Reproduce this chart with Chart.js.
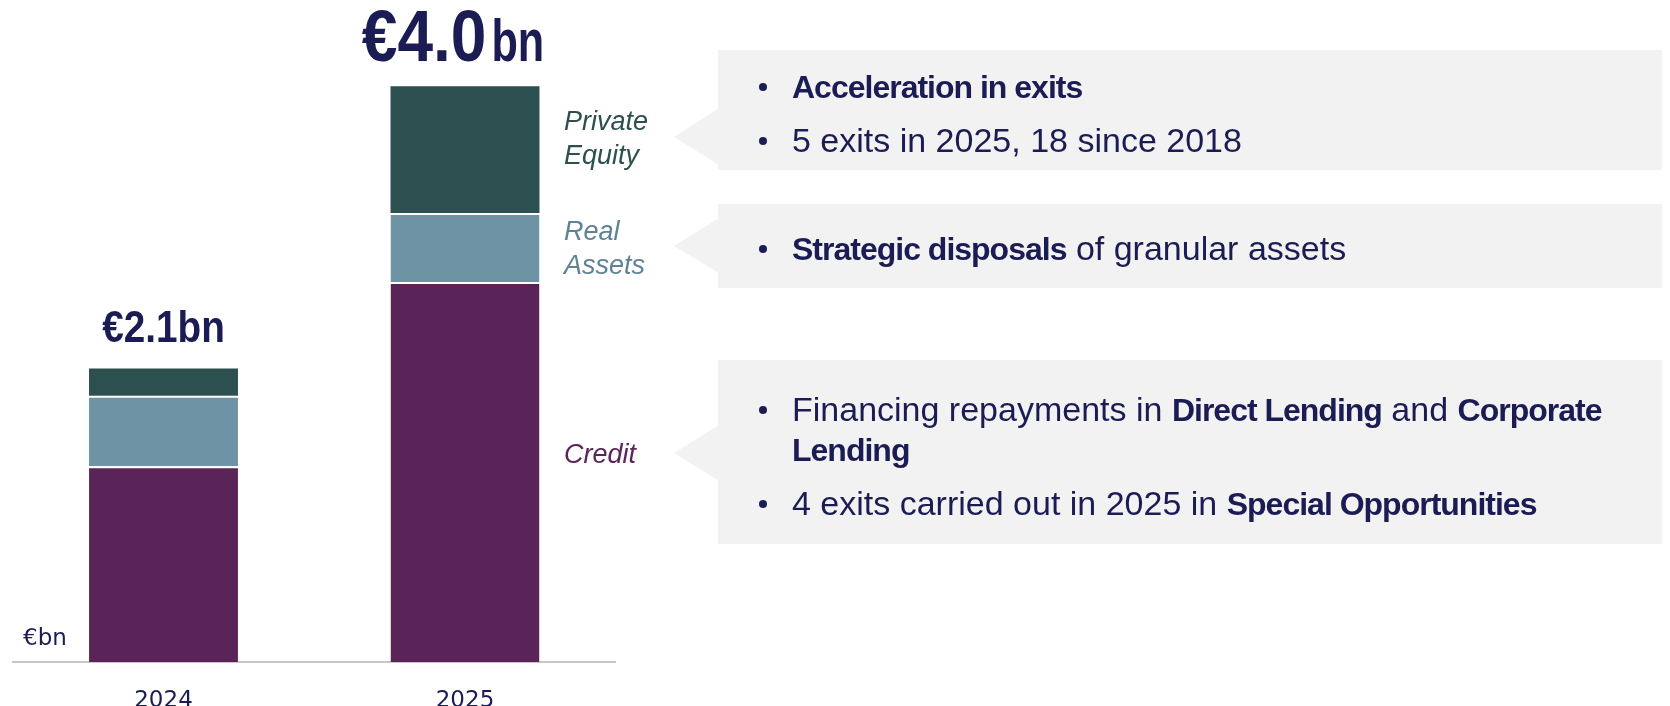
<!DOCTYPE html>
<html>
<head>
<meta charset="utf-8">
<script src="https://cdn.jsdelivr.net/npm/chart.js@4.4.1/dist/chart.umd.min.js"></script>
<style>
  html, body { margin:0; padding:0; background:#fff; }
  body { width:1670px; height:706px; position:relative; overflow:hidden; }
  #wrap { position:absolute; left:0; top:0; width:640px; height:706px; }
  .seg { position:absolute; left:564px; font: italic 27px/34px 'Liberation Sans', Arial, sans-serif; white-space:nowrap; }
  .unit { position:absolute; left:23px; top:624px; font: 23px/26px 'DejaVu Sans', sans-serif; color:#1c1c54; }
  .box { position:absolute; left:718px; width:944px; background:#f2f2f2; box-sizing:border-box; padding-left:74px;
         font: 34px/39px 'Liberation Sans', Arial, sans-serif; color:#1c1c54; }
  .box p { margin:0; position:relative; white-space:nowrap; }
  .box p + p { margin-top:14px; }
  .box p::before { content:''; position:absolute; left:-33px; top:16px; width:8px; height:8px; border-radius:50%; background:#1c1c54; }
  .box b { font-weight:bold; font-size:32px; letter-spacing:-1px; }
  svg.arrows { position:absolute; left:0; top:0; }
</style>
</head>
<body>
<div id="wrap"><canvas id="c" width="640" height="706"></canvas></div>

<div class="unit">€bn</div>
<div class="seg" style="top:104px; color:#2c4f4f;">Private<br>Equity</div>
<div class="seg" style="top:214px; color:#5f8395;">Real<br>Assets</div>
<div class="seg" style="top:437px; color:#5a2459;">Credit</div>

<svg class="arrows" width="1670" height="706">
  <polygon points="719,108 674,137 719,165" fill="#f2f2f2"/>
  <polygon points="719,218 674,246 719,273" fill="#f2f2f2"/>
  <polygon points="719,425 674,453 719,481" fill="#f2f2f2"/>
</svg>

<div class="box" style="top:50px; height:120px; padding-top:16.5px;">
  <p><b>Acceleration in exits</b></p>
  <p>5 exits in 2025, 18 since 2018</p>
</div>
<div class="box" style="top:204px; height:84px; padding-top:24.5px;">
  <p><b>Strategic disposals</b> of granular assets</p>
</div>
<div class="box" style="top:360px; height:184px; padding-top:29.5px;">
  <p>Financing repayments in <b>Direct Lending</b> and <b>Corporate</b><br><b>Lending</b></p>
  <p>4 exits carried out in 2025 in <b>Special Opportunities</b></p>
</div>

<script>
const categories = ['2024', '2025'];
const credit = [1.36, 2.64];
const realAssets = [0.49, 0.48];
const privateEquity = [0.19, 0.88];
const totalLabels = ['€2.1bn', '€4.0bn'];

const NAVY = '#1c1c54';

const totalsPlugin = {
  id: 'totals',
  afterDatasetsDraw(chart, args, opts) {
    const ctx = chart.ctx;
    const xs = chart.scales.x, ys = chart.scales.y;
    categories.forEach((c, i) => {
      const total = credit[i] + realAssets[i] + privateEquity[i];
      const cx = xs.getPixelForValue(i) + opts.xShift[i];
      const yTop = ys.getPixelForValue(total);
      const m = totalLabels[i].match(/^(.*?)(bn)$/);
      const num = m ? m[1] : totalLabels[i];
      const unit = m ? m[2] : '';
      const fam = "'Liberation Sans', Arial, sans-serif";
      const f1 = `bold ${opts.numSize[i]}px ${fam}`;
      const f2 = `bold ${opts.unitSize[i]}px ${fam}`;
      ctx.save();
      ctx.fillStyle = NAVY;
      ctx.textBaseline = 'alphabetic';
      ctx.textAlign = 'left';
      ctx.font = f1; const w1 = ctx.measureText(num).width * opts.numScale[i];
      ctx.font = f2; const w2 = ctx.measureText(unit).width * opts.unitScale[i];
      const gap = opts.gap[i];
      const x0 = cx - (w1 + gap + w2) / 2;
      const yb = yTop - opts.offset[i];
      ctx.save();
      ctx.translate(x0, yb); ctx.scale(opts.numScale[i], 1);
      ctx.font = f1; ctx.fillText(num, 0, 0);
      ctx.restore();
      ctx.save();
      ctx.translate(x0 + w1 + gap, yb); ctx.scale(opts.unitScale[i], 1);
      ctx.font = f2; ctx.fillText(unit, 0, 0);
      ctx.restore();
      ctx.restore();
    });
  }
};

const sep = { top: 2, left: 0, right: 0, bottom: 0 };

new Chart(document.getElementById('c'), {
  type: 'bar',
  data: {
    labels: categories,
    datasets: [
      { label: 'Credit', data: credit, backgroundColor: '#5a2459', borderColor: '#ffffff', borderWidth: sep, borderSkipped: false },
      { label: 'Real Assets', data: realAssets, backgroundColor: '#6e93a5', borderColor: '#ffffff', borderWidth: sep, borderSkipped: false },
      { label: 'Private Equity', data: privateEquity, backgroundColor: '#2c4f4f', borderWidth: 0 }
    ]
  },
  options: {
    responsive: false,
    animation: false,
    layout: { padding: { left: 12.75, right: 24.25, top: 0, bottom: 0 } },
    datasets: { bar: { categoryPercentage: 0.494, barPercentage: 1 } },
    plugins: {
      legend: { display: false },
      tooltip: { enabled: false },
      totals: {
        numSize: [45, 72], unitSize: [45, 60],
        numScale: [0.86, 0.89], unitScale: [0.86, 0.72],
        gap: [0, 5], offset: [26, 25], xShift: [0, -12]
      }
    },
    scales: {
      x: {
        stacked: true,
        grid: { display: true, color: 'rgba(0,0,0,0)', drawTicks: false },
        border: { display: true, color: '#c8c8c8', width: 2 },
        ticks: { color: NAVY, font: { family: "'DejaVu Sans', sans-serif", size: 23 }, padding: 25 },
        afterFit(s) { s.height = 44; }
      },
      y: {
        stacked: true, display: false, min: 0, max: 4.6
      }
    }
  },
  plugins: [totalsPlugin]
});
</script>
</body>
</html>
